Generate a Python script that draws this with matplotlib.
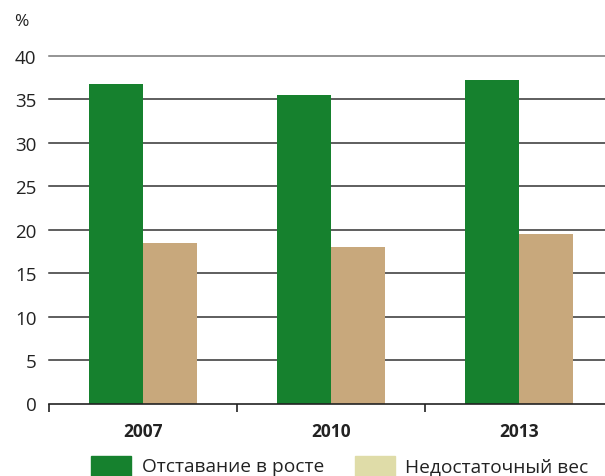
import matplotlib
matplotlib.use("Agg")
import matplotlib.pyplot as plt
from matplotlib.patches import Rectangle
import numpy as np

plt.rcParams['font.family'] = ['Open Sans', 'DejaVu Sans']

years = ["2007", "2010", "2013"]
series_names = ["Отставание в росте", "Недостаточный вес"]
stunting = [36.8, 35.5, 37.2]
underweight = [18.5, 18.0, 19.5]
yticks = [0, 5, 10, 15, 20, 25, 30, 35, 40]

bar_colors = ["#16812e", "#c8a87c"]
legend_colors = ["#16812e", "#dfdca8"]

W, H = 605, 477
fig = plt.figure(figsize=(W / 100, H / 100), dpi=100)
left, right = 49 / W, 613 / W
bottom, top = (H - 404.5) / H, (H - 57) / H
ax = fig.add_axes([left, bottom, right - left, top - bottom])

x = np.arange(len(years))
bw = 0.287
ax.bar(x - bw / 2, stunting, bw, color=bar_colors[0], zorder=3)
ax.bar(x + bw / 2, underweight, bw, color=bar_colors[1], zorder=3)

ax.set_xlim(-0.5, len(years) - 0.5)
ax.set_ylim(0, 40)
for yv in yticks[1:]:
    ax.axhline(yv, color="#333333" if yv < 40 else "#777777", lw=1.1, zorder=1, clip_on=False)

for s in ["left", "right", "top"]:
    ax.spines[s].set_visible(False)
ax.spines["bottom"].set_color("#222222")
ax.spines["bottom"].set_linewidth(1.2)
ax.spines["bottom"].set_zorder(4)

ax.set_yticks(yticks)
ax.set_yticklabels([str(v) for v in yticks], fontsize=13.5, color="#222222")
ax.tick_params(axis="y", length=0, pad=9)

ax.set_xticks(np.arange(len(years) + 1) - 0.5, minor=False)
ax.set_xticklabels([])
ax.tick_params(axis="x", which="major", length=6, width=1.2, color="#222222", direction="out")
ax.set_xticks(x, minor=True)
ax.set_xticklabels(years, minor=True, fontsize=12.5, fontweight="bold", color="#222222")
ax.tick_params(axis="x", which="minor", length=0, pad=13)

fig.text(14 / W, 1 - 22 / H, "%", fontsize=12.5, color="#222222", va="center", ha="left")

# legend
ly = 1 - 467 / H
for i, (name, col, px, tx) in enumerate(zip(series_names, legend_colors, [91, 355], [142, 405])):
    fig.patches.append(Rectangle((px / W, (H - 477) / H), 40 / W, 20 / H,
                                 transform=fig.transFigure, color=col, figure=fig))
    fig.text(tx / W, ly, name, fontsize=13.8, color="#222222", va="center", ha="left")

fig.savefig("out.png", dpi=100)
